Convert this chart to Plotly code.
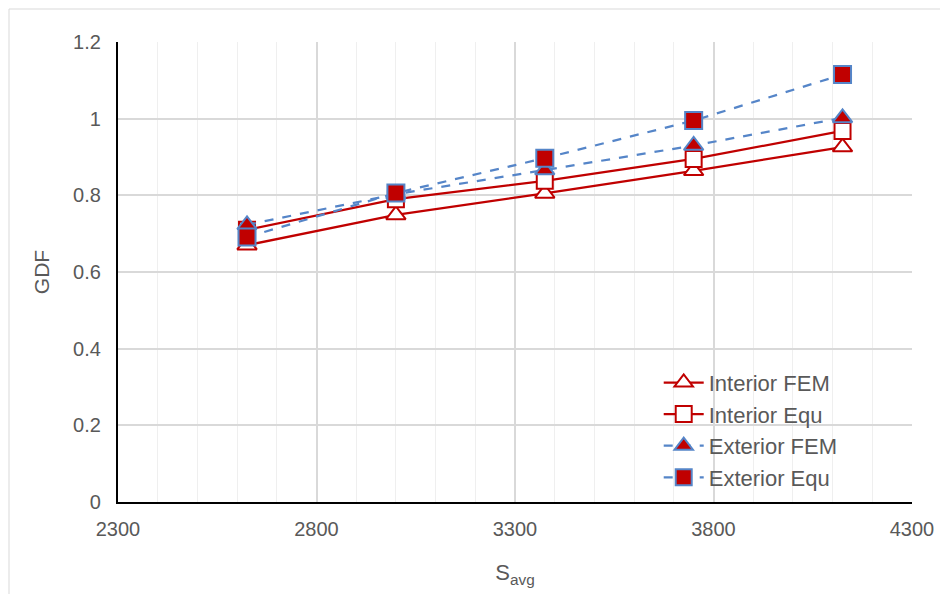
import plotly.graph_objects as go

s_avg = [2625, 3000, 3375, 3750, 4125]
interior_fem = [0.670, 0.749, 0.805, 0.864, 0.926]
interior_equ = [0.710, 0.790, 0.838, 0.895, 0.968]
exterior_fem = [0.723, 0.803, 0.866, 0.930, 1.002]
exterior_equ = [0.691, 0.806, 0.897, 0.995, 1.115]

RED = "#C00000"
BLUE = "#5585C8"
FONT = "Liberation Sans"
GREY = "#595959"

# plot area in figure pixels (page has an 8px body margin)
L, R, T, B = 110, 44, 34, 100
PW, PH = 948 - L - R, 594 - T - B

fig = go.Figure()

fig.add_trace(go.Scatter(
    x=s_avg, y=interior_fem, name="Interior FEM", mode="lines+markers",
    line=dict(color=RED, width=2.25),
    marker=dict(symbol="triangle-up", size=17, color="white",
                line=dict(color=RED, width=2))))
fig.add_trace(go.Scatter(
    x=s_avg, y=interior_equ, name="Interior Equ", mode="lines+markers",
    line=dict(color=RED, width=2.25),
    marker=dict(symbol="square", size=16, color="white",
                line=dict(color=RED, width=2))))
fig.add_trace(go.Scatter(
    x=s_avg, y=exterior_fem, name="Exterior FEM", mode="lines+markers",
    line=dict(color=BLUE, width=2.25, dash="dash"),
    marker=dict(symbol="triangle-up", size=17, color=RED,
                line=dict(color=BLUE, width=2))))
fig.add_trace(go.Scatter(
    x=s_avg, y=exterior_equ, name="Exterior Equ", mode="lines+markers",
    line=dict(color=BLUE, width=2.25, dash="dash"),
    marker=dict(symbol="square", size=17, color=RED,
                line=dict(color=BLUE, width=2))))

fig.update_layout(
    width=948, height=594,
    margin=dict(l=L, r=R, t=T, b=B),
    paper_bgcolor="white", plot_bgcolor="white",
    font=dict(family=FONT, color=GREY, size=20),
    legend=dict(x=0.681, y=0.305, xanchor="left", yanchor="top",
                font=dict(size=22, color=GREY, family=FONT),
                bgcolor="rgba(255,255,255,0)", tracegroupgap=0,
                itemwidth=40),
    xaxis=dict(range=[2300, 4300], tick0=2300, dtick=500,
               showgrid=True, gridcolor="#D9D9D9", gridwidth=1.5,
               minor=dict(dtick=100, showgrid=True, gridcolor="#EFEFEF", gridwidth=1),
               showline=True, linecolor="black", linewidth=2,
               ticks="", zeroline=False, ticklabelstandoff=8,
               tickfont=dict(size=20, color=GREY),
               title=dict(text="S<sub>avg</sub>", font=dict(size=22, color=GREY),
                          standoff=26)),
    yaxis=dict(range=[0, 1.2], dtick=0.2, tick0=0,
               showgrid=True, gridcolor="#D9D9D9", gridwidth=1.5,
               showline=True, linecolor="black", linewidth=2,
               ticks="", zeroline=False,
               tickfont=dict(size=20, color=GREY),
               tickformat="~g", ticksuffix="  ",
               title=dict(text="GDF", font=dict(size=21, color=GREY),
                          standoff=18)),
    shapes=[dict(type="rect", xref="paper", yref="paper",
                 x0=(1 - L) / PW, x1=(938 - L) / PW,
                 y0=(594 - B - 620) / PH, y1=(594 - B - 1) / PH,
                 line=dict(color="#D9D9D9", width=1), layer="below")],
)

fig.write_html("out.html")
